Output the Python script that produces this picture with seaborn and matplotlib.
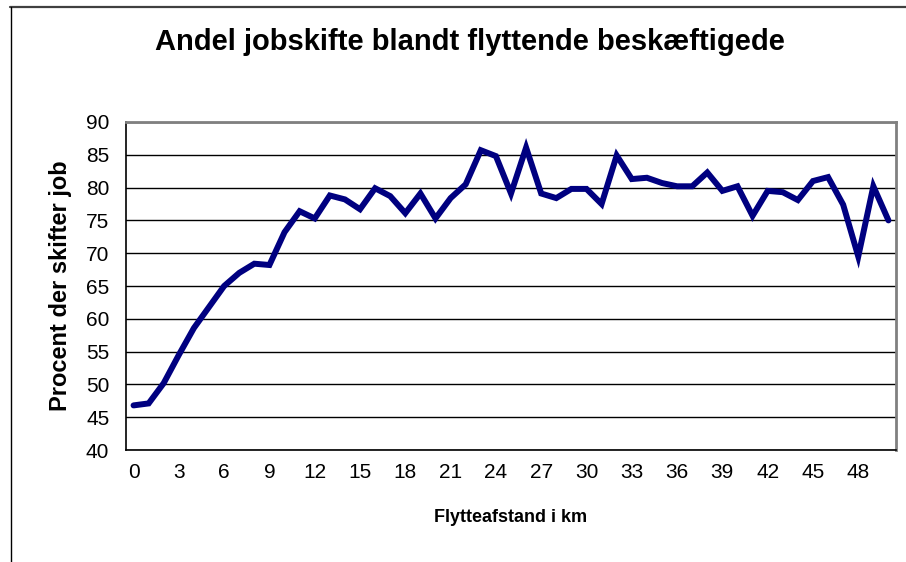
import seaborn as sns
import matplotlib.pyplot as plt
from matplotlib.lines import Line2D
import pandas as pd

# afstand i km og andel der skifter job
afstand = list(range(51))
procent = [46.8, 47.1, 50.2, 54.5, 58.6, 61.8, 65.0, 67.0, 68.4, 68.2,
           73.2, 76.4, 75.3, 78.8, 78.2, 76.7, 79.9, 78.7, 76.1, 79.1,
           75.3, 78.4, 80.5, 85.7, 84.8, 79.1, 86.1, 79.1, 78.4, 79.8,
           79.8, 77.5, 84.9, 81.3, 81.5, 80.7, 80.2, 80.2, 82.3, 79.5,
           80.2, 75.7, 79.5, 79.3, 78.1, 81.0, 81.6, 77.4, 69.5, 80.2,
           75.0]
yticks = list(range(40, 95, 5))
xticks = list(range(0, 49, 3))

data = pd.DataFrame({'Flytteafstand i km': afstand, 'Procent der skifter job': procent})

sns.set_style('white')
plt.rcParams['font.family'] = ['Liberation Sans', 'DejaVu Sans']
plt.rcParams['text.color'] = 'black'
plt.rcParams['xtick.color'] = 'black'
plt.rcParams['ytick.color'] = 'black'
plt.rcParams['axes.labelcolor'] = 'black'

fig = plt.figure(figsize=(9.06, 5.62), dpi=100)
ax = fig.add_axes([126 / 906, 1 - 450 / 562, 770 / 906, 328 / 562])

sns.lineplot(x='Flytteafstand i km', y='Procent der skifter job', data=data,
             ax=ax, color='#000080', linewidth=4.3, solid_joinstyle='miter')

ax.set_xlim(-0.5, 50.5)
ax.set_ylim(40, 90)
ax.set_yticks(yticks)
ax.set_xticks(xticks)
ax.set_xticks([i - 0.5 for i in range(52)], minor=True)
ax.tick_params(axis='x', which='major', length=0, pad=9, labelsize=15)
ax.tick_params(axis='x', which='minor', length=5, width=1, color='black', direction='out')
ax.tick_params(axis='y', length=6, width=1, color='black', direction='out', pad=6, labelsize=15)
ax.grid(axis='y', color='black', linewidth=1)
ax.set_axisbelow(True)

for side in ['left', 'bottom']:
    ax.spines[side].set_color('black')
    ax.spines[side].set_linewidth(1.2)
for side in ['top', 'right']:
    ax.spines[side].set_color('#808080')
    ax.spines[side].set_linewidth(2)

ax.set_xlabel('Flytteafstand i km', fontsize=13, fontweight='bold', labelpad=20)
ax.set_ylabel('Procent der skifter job', fontsize=17, fontweight='bold', labelpad=10)
fig.text(470 / 906, 1 - 42 / 562, 'Andel jobskifte blandt flyttende beskæftigede',
         ha='center', va='center', fontsize=21, fontweight='bold')

# ramme om diagrammet
fig.add_artist(Line2D([10 / 906, 1], [1 - 6.5 / 562] * 2, color='#404040', linewidth=1.6))
fig.add_artist(Line2D([10.5 / 906] * 2, [0, 1 - 6.5 / 562], color='black', linewidth=1))

fig.savefig('out.png', dpi=100)
